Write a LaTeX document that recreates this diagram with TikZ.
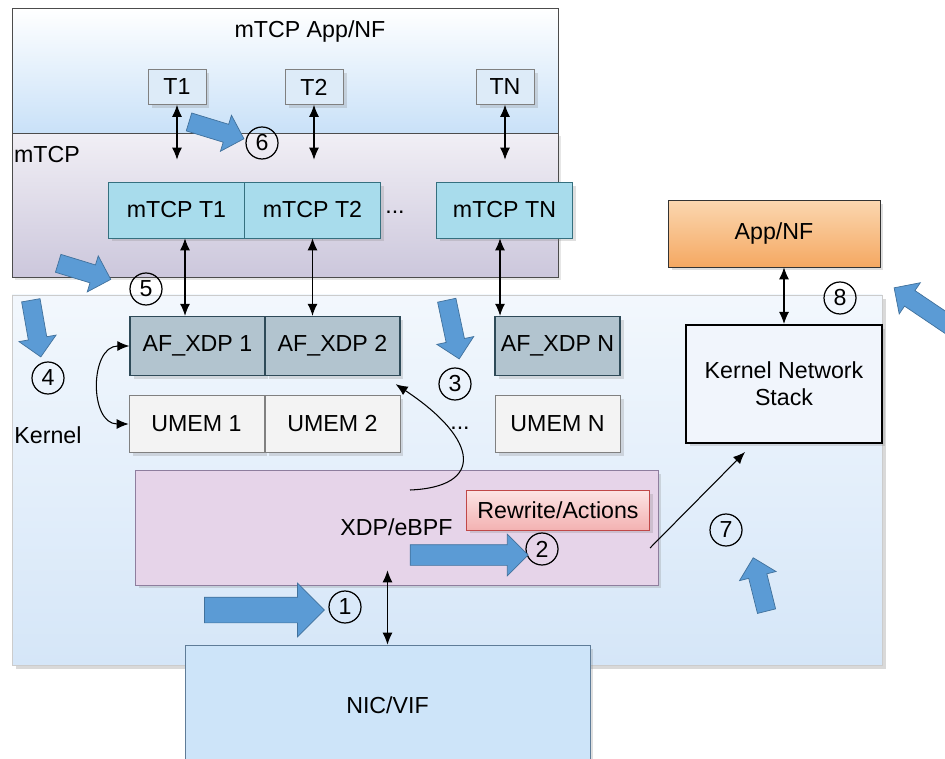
\documentclass[tikz,border=0pt]{standalone}
\usepackage{fontspec}
\setmainfont{Liberation Sans}
\usetikzlibrary{shapes.arrows,shadows,arrows.meta}

\definecolor{colApp}{HTML}{C9E1F8}
\definecolor{colMtcpTop}{HTML}{F1EFF5}
\definecolor{colMtcp}{HTML}{CCC7DC}
\definecolor{colKern}{HTML}{D5E6F8}
\definecolor{colT}{HTML}{DDEBF8}
\definecolor{colMt}{HTML}{A8DCEC}
\definecolor{colMtEdge}{HTML}{35707F}
\definecolor{colAf}{HTML}{B2C4CF}
\definecolor{colAfEdge}{HTML}{2E4A58}
\definecolor{colUmem}{HTML}{F3F3F3}
\definecolor{colXdp}{HTML}{E6D4E9}
\definecolor{colXdpEdge}{HTML}{8E7E9E}
\definecolor{colRwTop}{HTML}{FCE4E4}
\definecolor{colRwBot}{HTML}{F3B2B2}
\definecolor{colRwEdge}{HTML}{C04848}
\definecolor{colNic}{HTML}{CDE4F9}
\definecolor{colNicEdge}{HTML}{5F7C98}
\definecolor{colKns}{HTML}{F1F5FC}
\definecolor{colAppTop}{HTML}{FBD7B0}
\definecolor{colAppBot}{HTML}{F5A862}
\definecolor{colFlow}{HTML}{5B9BD5}
\definecolor{colFlowEdge}{HTML}{41719C}

\tikzset{
  box/.style={draw, rectangle, inner sep=0pt,
    drop shadow={opacity=0.25,shadow xshift=0.07cm,shadow yshift=-0.07cm}},
  tnode/.style={box, fill=colT, draw=gray, minimum width=1.16cm, minimum height=0.7cm},
  mtnode/.style={box, fill=colMt, draw=colMtEdge, minimum width=2.72cm, minimum height=1.12cm},
  afnode/.style={box, fill=colAf, draw=colAfEdge, thick, minimum width=2.7cm, minimum height=1.18cm},
  umemnode/.style={box, fill=colUmem, draw=gray, minimum width=2.7cm, minimum height=1.14cm},
  num/.style={circle, draw, line width=0.7pt, minimum size=0.64cm, inner sep=0pt},
  link/.style={semithick},
  flow/.style={single arrow, draw=colFlowEdge, fill=colFlow, inner xsep=0pt},
  flowbig/.style={flow, inner ysep=0.25cm, single arrow head extend=0.28cm},
  flowmid/.style={flow, inner ysep=0.2cm, single arrow head extend=0.21cm},
  flowsmall/.style={flow, inner ysep=0.18cm, single arrow head extend=0.19cm}
}

\begin{document}
\begin{tikzpicture}[x=0.02cm,y=-0.02cm,font=\fontsize{13.2}{15.5}\selectfont,>={Latex[length=2.4mm,width=2mm]}]
\useasboundingbox (0,0) rectangle (945,759);

% regions
  \draw[draw=gray!40, top color=white!70!colKern, bottom color=colKern,
    drop shadow={opacity=0.3,shadow xshift=0.08cm,shadow yshift=-0.08cm}] (12,295) rectangle (882,665);
  \draw[draw=gray!60!black, top color=colMtcpTop, bottom color=colMtcp,
    drop shadow={opacity=0.2,shadow xshift=0.06cm,shadow yshift=-0.06cm}] (12,133) rectangle (558,277);
  \draw[draw=gray!60!black, top color=white, bottom color=colApp] (12,8) rectangle (558,133);

% labels
  \node (apptitle) at (310,32) {mTCP App/NF};
  \node (mtcplbl) at (47,155) {mTCP};
  \node (kernlbl) at (48,435) {Kernel};

% threads
  \node[tnode] (t1) at (177,87) {T1};
  \node[tnode] (t2) at (314,87) {T2};
  \node[tnode] (tn) at (505,87) {TN};

% mTCP threads
  \node[mtnode] (mt1) at (176.5,210) {mTCP T1};
  \node[mtnode] (mt2) at (312.5,210) {mTCP T2};
  \node[mtnode] (mtn) at (504.5,210) {mTCP TN};
  \node (dots1) at (395,212) {...};

% sockets and umem
  \node[afnode] (af1) at (197.5,346) {AF\_XDP 1};
  \node[afnode] (af2) at (332.5,346) {AF\_XDP 2};
  \node[afnode, minimum width=2.5cm] (afn) at (557.5,346) {AF\_XDP N};
  \node[umemnode] (um1) at (196.5,424) {UMEM 1};
  \node[umemnode] (um2) at (332.5,424) {UMEM 2};
  \node[umemnode, minimum width=2.5cm] (umn) at (557.5,424) {UMEM N};
  \node (dots2) at (460,428) {...};

% xdp, nic
  \node[box, fill=colXdp, draw=colXdpEdge, minimum width=10.46cm, minimum height=2.3cm] (xdp) at (396.5,527.5) {XDP/eBPF};
  \node[box, top color=colRwTop, bottom color=colRwBot, draw=colRwEdge, minimum width=3.66cm, minimum height=0.8cm] (rw) at (558,510) {Rewrite/Actions};
  \node[box, fill=colNic, draw=colNicEdge, minimum width=8.1cm, minimum height=2.4cm] (nic) at (387.5,705) {NIC/VIF};

% kernel stack, app
  \node[box, fill=colKns, draw=black, line width=1.2pt, minimum width=3.92cm, minimum height=2.36cm, align=center] (kns) at (784,384) {Kernel Network\\Stack};
  \node[box, top color=colAppTop, bottom color=colAppBot, draw=gray!40!black, minimum width=4.24cm, minimum height=1.34cm] (app) at (774,233.5) {App/NF};

% connectors
  \draw[link,<->,shorten >=0.44cm] (t1.south) -- (t1.south |- mt1.north);
  \draw[link,<->,shorten >=0.44cm] (t2.south) -- (t2.south |- mt2.north);
  \draw[link,<->,shorten >=0.44cm] (tn.south) -- (tn.south |- mtn.north);
  \draw[link,<->] ([xshift=0.17cm]mt1.south) -- ([xshift=0.17cm]mt1.south |- af1.north);
  \draw[link,<->] (mt2.south) -- (mt2.south |- af2.north);
  \draw[link,<->] ([xshift=-0.09cm]mtn.south) -- ([xshift=-0.09cm]mtn.south |- afn.north);
  \draw[link,<->] (af1.west) to[out=180,in=180,looseness=1.3] (um1.west);
  \coordinate (c3) at (410,490);
  \draw[link,->] (c3) .. controls (484,487) and (480,440) .. ([shift={(-0.1cm,-0.16cm)}]af2.south east);
  \draw[link,<->] ([yshift=0.3cm]xdp.south -| nic.north) -- (nic.north);
  \coordinate (c7a) at (650,548);
  \coordinate (c7b) at (745,452);
  \draw[link,->] (c7a) -- (c7b);
  \draw[link,<->] (kns.north |- app.south) -- (kns.north);

% steps
  \node[num] (n1) at (345,607) {1};
  \node[num] (n2) at (542,549) {2};
  \node[num] (n3) at (455,384) {3};
  \node[num] (n4) at (48,378) {4};
  \node[num] (n5) at (146,289) {5};
  \node[num] (n6) at (262,143) {6};
  \node[num] (n7) at (726,530) {7};
  \node[num] (n8) at (840,298) {8};

% flow arrows
  \node[flowbig, minimum height=2.4cm] (f1) at (258,610) {};
  \node[flowmid, minimum height=2.36cm] (f2) at (464,555) {};
  \node[flowsmall, minimum height=1.2cm, rotate=-78] (f3) at (452,325) {};
  \node[flowsmall, minimum height=1.15cm, rotate=-80] (f4) at (35,324) {};
  \node[flowsmall, minimum height=1.1cm, rotate=-17] (f5) at (80,270) {};
  \node[flowsmall, minimum height=1.15cm, rotate=-17] (f6) at (212,129) {};
  \node[flowsmall, minimum height=1.1cm, rotate=104] (f7) at (761,589) {};
  \node[flowsmall, minimum height=1.4cm, rotate=146] (f8) at (927,310) {};
\end{tikzpicture}
\end{document}
